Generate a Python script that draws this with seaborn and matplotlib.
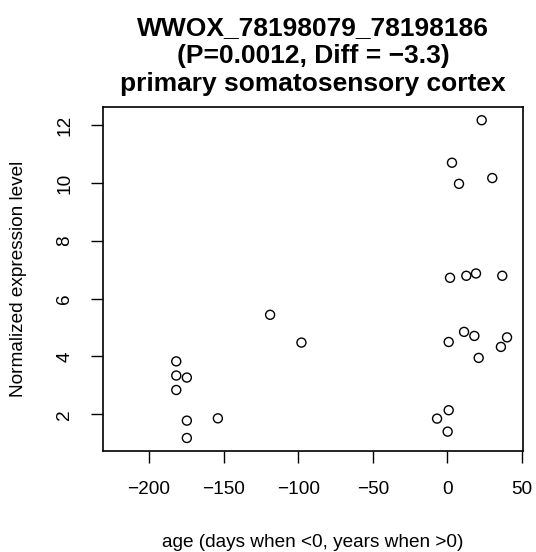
import matplotlib
matplotlib.use("Agg")
import matplotlib.pyplot as plt
import numpy as np
import pandas as pd
import seaborn as sns

age = [-181.7, -181.7, -174.6, -181.7, -174.6, -174.6, -153.8, -118.8, -97.8,
       23.0, 3.1, 7.8, 30.1, 1.8, 12.7, 19.2, 36.8, 0.9, 11.2, 18.1, 21.0,
       35.9, 40.0, -6.9, 0.9, 0.2]
expression = [3.83, 3.34, 3.27, 2.84, 1.78, 1.18, 1.86, 5.44, 4.48,
              12.17, 10.70, 9.97, 10.17, 6.72, 6.79, 6.87, 6.79, 4.50, 4.85, 4.71, 3.95,
              4.33, 4.66, 1.85, 2.14, 1.40]
x_ticks = [-200, -150, -100, -50, 0, 50]
y_ticks = [2, 4, 6, 8, 10, 12]
title_lines = ["WWOX_78198079_78198186",
               "(P=0.0012, Diff = \u22123.3)",
               "primary somatosensory cortex"]

df = pd.DataFrame({"age": age, "expression": expression})

sns.set_theme(style="white")
plt.rcParams["font.family"] = ["Liberation Sans", "DejaVu Sans"]
plt.rcParams.update({"text.color": "black", "axes.labelcolor": "black",
                     "xtick.color": "black", "ytick.color": "black"})

W, H = 536, 552
fig = plt.figure(figsize=(W / 100, H / 100), dpi=100)
left, right, top, bottom = 103.3, 522.7, 107.5, 451.0
ax = fig.add_axes([left / W, 1 - bottom / H, (right - left) / W, (bottom - top) / H])

sns.scatterplot(data=df, x="age", y="expression", ax=ax, s=42, marker="o",
                facecolor="none", edgecolor="black", linewidth=1.0)

ax.set_xlim(-230.6, 50.5)
ax.set_ylim(0.73, 12.61)
ax.set_xticks(x_ticks)
ax.set_yticks(y_ticks)
ax.set_xticklabels([str(t).replace("-", "\u2212") for t in x_ticks])
ax.set_yticklabels([str(t) for t in y_ticks], rotation=90, va="center")
ax.tick_params(axis="both", direction="out", length=8.6, width=1.0,
               labelsize=13.7, pad=13, bottom=True, left=True)
for sp in ax.spines.values():
    sp.set_color("black")
    sp.set_linewidth(1.2)

ax.set_xlabel("age (days when <0, years when >0)", fontsize=13.7, labelpad=26)
ax.set_ylabel("Normalized expression level", fontsize=13.7, labelpad=21)

# three-line bold title, baselines
cx = (left + right) / 2 / W
for line, base in zip(title_lines, [35, 63, 91]):
    fig.text(cx, 1 - base / H, line, ha="center", va="baseline",
             fontsize=19, fontweight="bold")

fig.savefig("out.png", dpi=100)
